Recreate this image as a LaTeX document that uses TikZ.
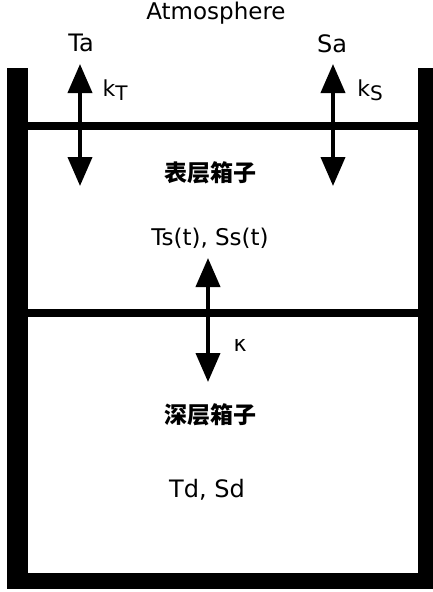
\documentclass[tikz,border=0pt]{standalone}
\usepackage{fontspec}
\setmainfont{DejaVu Sans}
\newfontfamily\cjk{Noto Sans CJK SC}
\usetikzlibrary{arrows.meta}
\begin{document}
\begin{tikzpicture}[x=1pt,y=-1pt,
  wall/.style={fill=black,draw=none},
  bar/.style={line width=8.5pt},
  flux/.style={line width=4pt,{Triangle[length=29pt,width=24pt]}-{Triangle[length=29pt,width=24pt]}},
  lab/.style={inner sep=0pt,font=\fontsize{24}{26}\selectfont},
  klab/.style={inner sep=0pt,font=\fontsize{22}{24}\selectfont},
  big/.style={inner sep=0pt,font=\fontsize{23}{25}\selectfont},
  boxlab/.style={inner sep=0pt,font=\cjk\bfseries\fontsize{23}{25}\selectfont}]
\useasboundingbox (0,0) rectangle (433,592);
% walls and floor
\fill[wall] (7,68) rectangle (28,589);
\fill[wall] (418,68) rectangle (433,589);
\fill[wall] (7,573) rectangle (433,589);
% layers
\coordinate (l1) at (28,126); \coordinate (r1) at (418,126);
\coordinate (l2) at (28,313); \coordinate (r2) at (418,313);
\draw[bar] (l1) -- (r1);
\draw[bar] (l2) -- (r2);
% arrows
\coordinate (aT1) at (80,64);  \coordinate (aT2) at (80,186);
\coordinate (aS1) at (333,64); \coordinate (aS2) at (333,186);
\coordinate (aK1) at (208,258); \coordinate (aK2) at (208,382);
\draw[flux] (aT2) -- (aT1);
\draw[flux] (aS2) -- (aS1);
\draw[flux] (aK2) -- (aK1);
% labels
\node[inner sep=0pt,font=\fontsize{23}{25}\selectfont] (atm) at (216,13) {Atmosphere};
\node[lab] (ta) at (81,43) {Ta};
\node[lab] (sa) at (332,44) {Sa};
\node[klab] (kt) at (115,90) {k\raisebox{-4pt}{\fontsize{20}{22}\selectfont T}};
\node[klab] (ks) at (370,90) {k\raisebox{-4pt}{\fontsize{20}{22}\selectfont S}};
\node[boxlab] (surf) at (210,173) {表层箱子};
\node[big] (ts) at (210,238) {Ts(t), Ss(t)};
\node[inner sep=0pt,font=\fontsize{22}{24}\selectfont] (kap) at (240,345) {κ};
\node[boxlab] (deep) at (210,415) {深层箱子};
\node[lab] (td) at (207,490) {Td, Sd};
\end{tikzpicture}
\end{document}
